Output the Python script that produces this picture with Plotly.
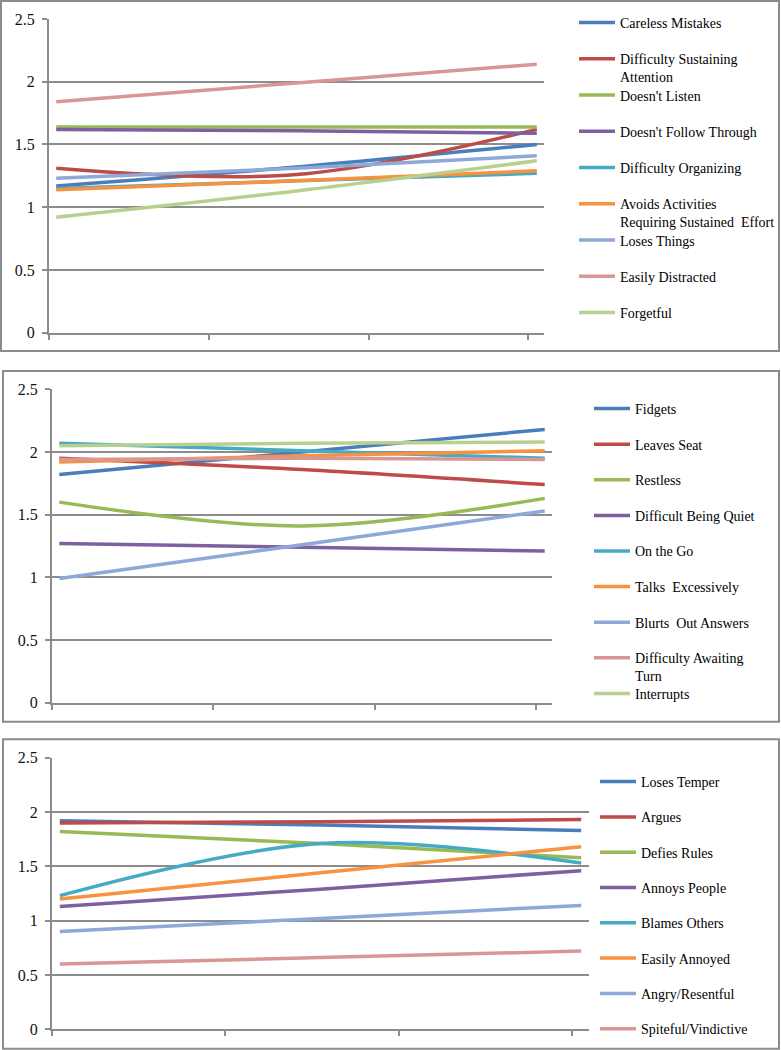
import plotly.graph_objects as go

# three assessment time points per symptom
timepoints = [0, 1, 2]

inattention_names = ["Careless Mistakes", "Difficulty Sustaining<br>Attention", "Doesn't Listen",
                     "Doesn't Follow Through", "Difficulty Organizing",
                     "Avoids Activities<br>Requiring Sustained  Effort", "Loses Things",
                     "Easily Distracted", "Forgetful"]
inattention_values = [
    [1.17, 1.32, 1.50],
    [1.31, 1.26, 1.62],
    [1.64, 1.64, 1.64],
    [1.62, 1.61, 1.59],
    [1.15, 1.21, 1.27],
    [1.14, 1.21, 1.29],
    [1.23, 1.31, 1.41],
    [1.84, 1.99, 2.14],
    [0.92, 1.13, 1.37],
]

hyperactivity_names = ["Fidgets", "Leaves Seat", "Restless", "Difficult Being Quiet", "On the Go",
                       "Talks  Excessively", "Blurts  Out Answers", "Difficulty Awaiting<br>Turn",
                       "Interrupts"]
hyperactivity_values = [
    [1.82, 2.00, 2.18],
    [1.95, 1.86, 1.74],
    [1.60, 1.41, 1.63],
    [1.27, 1.24, 1.21],
    [2.07, 2.01, 1.95],
    [1.92, 1.97, 2.01],
    [0.99, 1.26, 1.53],
    [1.94, 1.95, 1.94],
    [2.05, 2.07, 2.08],
]

opposition_names = ["Loses Temper", "Argues", "Defies Rules", "Annoys People", "Blames Others",
                    "Easily Annoyed", "Angry/Resentful", "Spiteful/Vindictive"]
opposition_values = [
    [1.92, 1.88, 1.83],
    [1.90, 1.91, 1.93],
    [1.82, 1.71, 1.58],
    [1.13, 1.29, 1.46],
    [1.23, 1.71, 1.53],
    [1.20, 1.44, 1.68],
    [0.90, 1.02, 1.14],
    [0.60, 0.66, 0.72],
]

colors = ["#4A7EBB", "#BE4B48", "#98B954", "#7D60A0", "#46AAC5", "#F69240",
          "#8EA9D8", "#DA9694", "#B7D08F"]

W, H = 781, 1050
GRAY = "#8C8C8C"
FONT = "Liberation Serif"


def px(x):
    return x / W


def py(y):
    return 1 - y / H


# pixel layout of each panel: plot box, frame box, legend column
panels = [
    {"names": inattention_names, "values": inattention_values,
     "plot": (49, 544, 19, 332.7), "frame": (1, 779, 1, 351),
     "leg_x": 582, "leg_y0": 23, "leg_dy": 36.25},
    {"names": hyperactivity_names, "values": hyperactivity_values,
     "plot": (52, 552, 389.3, 702.7), "frame": (3, 779, 371, 721.7),
     "leg_x": 597, "leg_y0": 409, "leg_dy": 35.6},
    {"names": opposition_names, "values": opposition_values,
     "plot": (52, 589, 757.7, 1029.3), "frame": (3, 779, 739.3, 1048.7),
     "leg_x": 603, "leg_y0": 782, "leg_dy": 35.3},
]

fig = go.Figure()
layout = {}
shapes = []
legend_count = 0

for p, panel in enumerate(panels):
    ax = "" if p == 0 else str(p + 1)
    x0, x1, y0, y1 = panel["plot"]
    layout["xaxis" + ax] = dict(
        domain=[px(x0), px(x1)], range=[-0.03, 2.03], anchor="y" + ax,
        tickmode="linear", tick0=-0.03, dtick=0.665,
        ticks="outside", ticklen=5, tickwidth=1.5, tickcolor=GRAY,
        showticklabels=False, showgrid=False, zeroline=False,
        showline=True, linecolor=GRAY, linewidth=2,
    )
    layout["yaxis" + ax] = dict(
        domain=[py(y1), py(y0)], range=[0, 2.5], anchor="x" + ax,
        tickmode="linear", tick0=0, dtick=0.5,
        ticks="outside", ticklen=5, tickwidth=1.5, tickcolor=GRAY,
        ticklabelstandoff=4,
        tickfont=dict(family=FONT, size=16, color="#111111"),
        showgrid=True, gridcolor=GRAY, gridwidth=1.5, zeroline=False,
        showline=True, linecolor=GRAY, linewidth=2,
    )
    fx0, fx1, fy0, fy1 = panel["frame"]
    shapes.append(dict(type="rect", xref="paper", yref="paper",
                       x0=px(fx0), x1=px(fx1), y0=py(fy1), y1=py(fy0),
                       line=dict(color=GRAY, width=2)))

    for i, (name, vals) in enumerate(zip(panel["names"], panel["values"])):
        legend_count += 1
        lg = "legend" if legend_count == 1 else "legend%d" % legend_count
        fig.add_trace(go.Scatter(
            x=timepoints, y=vals, name=name, mode="lines",
            line=dict(color=colors[i], width=3.5, shape="spline", smoothing=1),
            xaxis="x" + ax, yaxis="y" + ax, legend=lg,
        ))
        ly = panel["leg_y0"] + i * panel["leg_dy"]
        layout[lg] = dict(
            x=px(panel["leg_x"] - 8), y=py(ly - 16),
            xanchor="left", yanchor="top", valign="top",
            bgcolor="rgba(0,0,0,0)", borderwidth=0, itemwidth=36,
            font=dict(family=FONT, size=14, color="#000000"),
            tracegroupgap=0,
        )

layout["shapes"] = shapes
fig.update_layout(**layout)
fig.update_layout(
    width=W, height=H, margin=dict(l=0, r=0, t=0, b=0, autoexpand=False),
    paper_bgcolor="white", plot_bgcolor="white", showlegend=True,
)

fig.write_html("out.html", config={"displayModeBar": False},
               post_script="document.body.style.margin = '0';")
